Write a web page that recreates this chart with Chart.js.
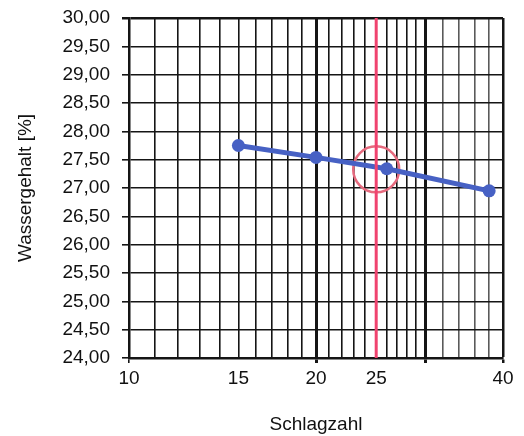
<!DOCTYPE html>
<html>
<head>
<meta charset="utf-8">
<script src="https://cdn.jsdelivr.net/npm/chart.js@4/dist/chart.umd.min.js"></script>
<style>
    html, body { margin: 0; padding: 0; background: #fff; }
    canvas { display: block; }
</style>
</head>
<body>
<canvas id="fliessChart" width="524" height="436"></canvas>
<script>
// Messwerte: Schlagzahl gegen Wassergehalt
const schlagzahl = [15, 20, 26, 38];
const wassergehalt = [27.75, 27.54, 27.34, 26.95];

// Fliessgrenze bei 25 Schlaegen
const grenzSchlagzahl = 25;
const grenzWassergehalt = 27.33;

// Rasterlinien der log. Achse und beschriftete Werte
const xGrid = [10, 11, 12, 13, 14, 15, 16, 17, 18, 19, 20, 21, 22, 23, 24, 25,
    26, 27, 28, 29, 30, 32, 34, 36, 38, 40];
const xLabels = [10, 15, 20, 25, 40];
const xHeavy = [20, 30];
const xMarked = [10, 20, 30, 40];

const yMin = 24;
const yMax = 30;
const yStep = 0.5;

const font = { family: 'Liberation Sans, Arial, sans-serif', size: 19 };

function fmtKomma(v) {
    return v.toFixed(2).replace('.', ',');
}

const ctx = document.getElementById('fliessChart').getContext('2d');
const chart = new Chart(ctx, {
    type: 'line',
    data: {
        datasets: [
            {
                // senkrechte Linie bei 25 Schlaegen
                data: [{ x: grenzSchlagzahl, y: yMin }, { x: grenzSchlagzahl, y: yMax }],
                borderColor: '#f0436f',
                borderWidth: 3,
                pointRadius: 0,
                fill: false
            },
            {
                data: schlagzahl.map((x, i) => ({ x: x, y: wassergehalt[i] })),
                borderColor: '#4761c4',
                backgroundColor: '#4761c4',
                borderWidth: 5,
                pointRadius: 6.5,
                pointBorderWidth: 0,
                tension: 0,
                fill: false
            },
            {
                // Kreis um den Schnittpunkt
                data: [{ x: grenzSchlagzahl, y: grenzWassergehalt }],
                showLine: false,
                pointRadius: 23,
                pointBorderWidth: 2.5,
                pointBorderColor: '#e66a7e',
                pointBackgroundColor: 'rgba(0,0,0,0)'
            }
        ]
    },
    options: {
        responsive: false,
        animation: false,
        devicePixelRatio: 1,
        layout: {
            autoPadding: false,
            padding: { top: 18, right: 21, left: 0, bottom: 0 }
        },
        plugins: {
            legend: { display: false },
            tooltip: { enabled: false }
        },
        scales: {
            x: {
                type: 'logarithmic',
                min: 10,
                max: 40,
                afterBuildTicks: scale => {
                    scale.ticks = xGrid.map(v => ({ value: v }));
                },
                afterFit: scale => {
                    scale.height = 78;
                    scale.paddingLeft = 0;
                    scale.paddingRight = 0;
                },
                ticks: {
                    autoSkip: false,
                    maxRotation: 0,
                    padding: 4,
                    color: '#111',
                    font: font,
                    callback: value => xLabels.includes(value) ? String(value) : ''
                },
                grid: {
                    color: c => (c.tick && c.tick.value > 30 && c.tick.value < 40) ? '#5a5a5a' : '#151515',
                    lineWidth: c => {
                        if (!c.tick) return 1.6;
                        if (xHeavy.includes(c.tick.value)) return 3;
                        if (c.tick.value === 40) return 2.5;
                        return 1.6;
                    },
                    tickLength: 5,
                    tickColor: c => (c.tick && xMarked.includes(c.tick.value)) ? '#151515' : 'rgba(0,0,0,0)'
                },
                border: { color: '#151515', width: 2.5 },
                title: {
                    display: true,
                    text: 'Schlagzahl',
                    color: '#111',
                    font: font,
                    padding: 0
                }
            },
            y: {
                type: 'linear',
                min: yMin,
                max: yMax,
                afterFit: scale => {
                    scale.width = 129;
                    scale.paddingTop = 0;
                    scale.paddingBottom = 0;
                },
                ticks: {
                    stepSize: yStep,
                    padding: 12,
                    color: '#111',
                    font: font,
                    callback: value => fmtKomma(value)
                },
                grid: {
                    color: '#151515',
                    lineWidth: c => (c.tick && c.tick.value === yMax) ? 2.5 : 1.6,
                    tickLength: 7
                },
                border: { color: '#151515', width: 2.5 },
                title: {
                    display: true,
                    text: 'Wassergehalt [%]',
                    color: '#111',
                    font: font,
                    padding: 14
                }
            }
        }
    }
});
</script>
</body>
</html>
